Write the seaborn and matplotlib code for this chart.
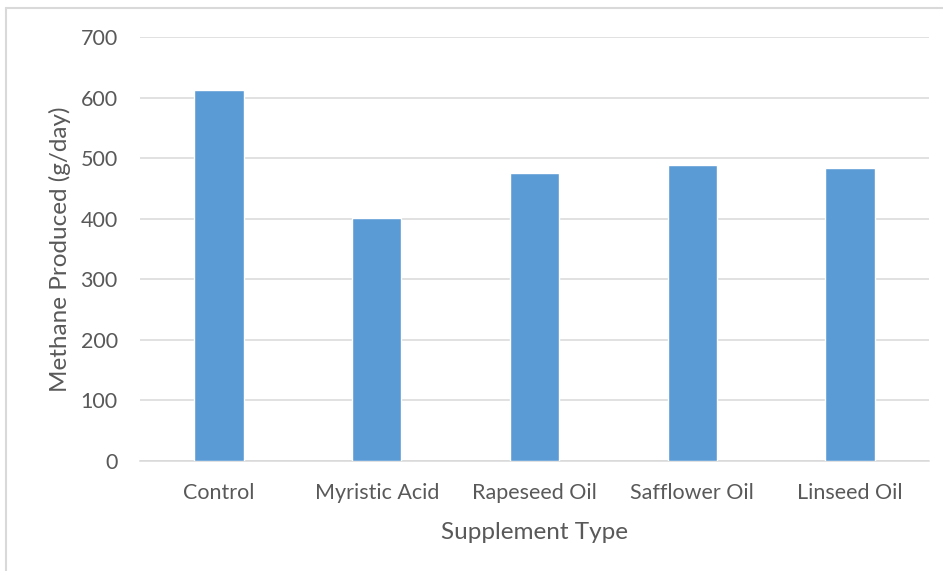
import matplotlib
matplotlib.use("Agg")
import matplotlib.pyplot as plt
import seaborn as sns
import pandas as pd
from matplotlib.lines import Line2D

# Methane output by feed supplement
supplements = ["Control", "Myristic Acid", "Rapeseed Oil", "Safflower Oil", "Linseed Oil"]
methane = [613, 402, 476, 488, 484]
y_ticks = [0, 100, 200, 300, 400, 500, 600, 700]

df = pd.DataFrame({"Supplement Type": supplements, "Methane Produced (g/day)": methane})

sns.set_theme(style="white")
plt.rcParams["font.family"] = ["Lato", "DejaVu Sans"]

fig = plt.figure(figsize=(9.43, 5.71), dpi=100)
ax = fig.add_axes([140 / 943, 110 / 571, 789 / 943, 424 / 571])

sns.barplot(data=df, x="Supplement Type", y="Methane Produced (g/day)",
            color="#5B9BD5", width=0.313, saturation=1, ax=ax, zorder=3)

ax.set_ylim(0, 700)
ax.set_xlim(-0.5, len(supplements) - 0.5)
ax.set_yticks(y_ticks)
ax.yaxis.grid(True, color="#d9d9d9", linewidth=1.1, zorder=0)
ax.set_axisbelow(True)
for side in ["top", "right", "left"]:
    ax.spines[side].set_visible(False)
ax.spines["bottom"].set_color("#d9d9d9")
ax.spines["bottom"].set_linewidth(1.1)

ax.tick_params(axis="both", length=0, colors="#595959", labelsize=15.5)
ax.tick_params(axis="x", pad=15.5)
ax.tick_params(axis="y", pad=16)
ax.set_xlabel("Supplement Type", fontsize=17.5, color="#595959", labelpad=14)
ax.set_ylabel("Methane Produced (g/day)", fontsize=17.5, color="#595959")
ax.yaxis.set_label_coords(-0.0875, 0.5)

# Chart frame border (top and left edges)
fig.add_artist(Line2D([6 / 943, 6 / 943], [0, 1 - 8 / 571], transform=fig.transFigure,
                      color="#d9d9d9", linewidth=1.5))
fig.add_artist(Line2D([6 / 943, 1], [1 - 8 / 571, 1 - 8 / 571], transform=fig.transFigure,
                      color="#d9d9d9", linewidth=1.5))

fig.savefig("out.png", dpi=100, facecolor="white")
